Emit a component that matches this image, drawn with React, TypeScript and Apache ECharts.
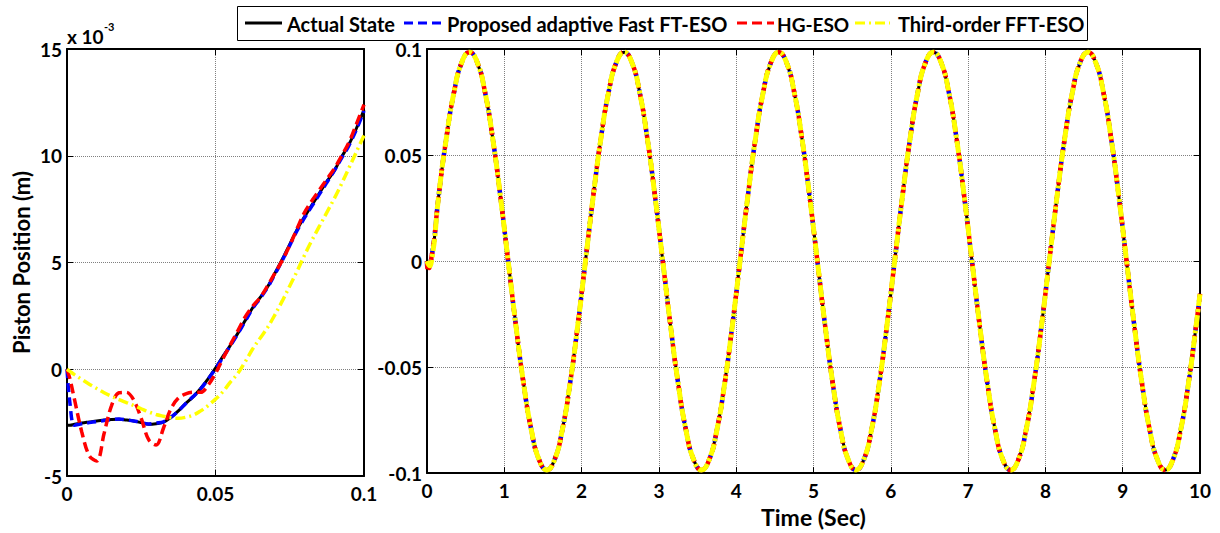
import React, { useEffect, useRef } from "react";
import * as echarts from "echarts";

// ---- Left panel: first 0.1 s (values in units of 10^-3 m) ----
const leftTime = [
  0, 0.001, 0.0025, 0.005, 0.0075, 0.01, 0.0125, 0.015, 0.0175, 0.02, 0.0225, 0.025, 0.0275, 0.03,
  0.0325, 0.035, 0.0375, 0.04, 0.0425, 0.045, 0.0475, 0.05, 0.0525, 0.055, 0.0575, 0.06, 0.0625,
  0.065, 0.0675, 0.07, 0.0725, 0.075, 0.0775, 0.08, 0.0825, 0.085, 0.0875, 0.09, 0.0925, 0.095,
  0.0975, 0.1,
];
const leftActual = [
  -2.62, -2.62, -2.58, -2.52, -2.47, -2.42, -2.38, -2.35, -2.34, -2.38, -2.43, -2.5, -2.58, -2.55,
  -2.48, -2.25, -1.95, -1.6, -1.28, -0.9, -0.45, 0.05, 0.6, 1.12, 1.68, 2.28, 2.88, 3.35, 3.85, 4.5,
  5.15, 5.85, 6.55, 7.15, 7.7, 8.25, 8.8, 9.3, 9.95, 10.55, 11.3, 12.15,
];
const leftFastFT = [
  0, -1.6, -2.62, -2.55, -2.5, -2.45, -2.4, -2.36, -2.33, -2.37, -2.42, -2.5, -2.56, -2.52, -2.46,
  -2.25, -1.95, -1.6, -1.28, -0.92, -0.47, 0.02, 0.56, 1.1, 1.66, 2.25, 2.85, 3.32, 3.82, 4.45, 5.1,
  5.8, 6.5, 7.1, 7.65, 8.2, 8.75, 9.3, 9.9, 10.5, 11.25, 12.1,
];
const leftHG = [
  0, -0.45, -1.4, -2.95, -4.05, -4.3, -3.0, -1.7, -1.1, -1.08, -1.45, -2.3, -3.3, -3.55, -2.75,
  -1.85, -1.35, -1.15, -1.08, -1.08, -0.75, -0.2, 0.5, 1.15, 1.8, 2.45, 2.95, 3.35, 3.9, 4.5, 5.1,
  5.8, 6.6, 7.35, 7.9, 8.4, 8.9, 9.4, 10.0, 10.65, 11.5, 12.4,
];
const leftFFT = [
  0, -0.1, -0.25, -0.48, -0.7, -0.9, -1.1, -1.27, -1.42, -1.56, -1.7, -1.85, -2.0, -2.12, -2.2,
  -2.27, -2.3, -2.25, -2.15, -1.95, -1.7, -1.4, -1.05, -0.6, -0.2, 0.35, 0.95, 1.45, 1.95, 2.55,
  3.2, 3.9, 4.6, 5.35, 6.05, 6.7, 7.35, 8.0, 8.7, 9.45, 10.2, 10.95,
];

// ---- Right panel: samples every 0.1 s from t = 0.15 s to 9.95 s, then t = 10 s (m) ----
const rightStartTime = 0.15;
const rightStep = 0.1;
const rightWave = [
  0.0304, 0.0579, 0.0797, 0.0937, 0.0985, 0.0937, 0.0797, 0.0579, 0.0304, 0.0,
  -0.0304, -0.0579, -0.0797, -0.0937, -0.0985, -0.0937, -0.0797, -0.0579, -0.0304, 0.0,
  0.0304, 0.0579, 0.0797, 0.0937, 0.0985, 0.0937, 0.0797, 0.0579, 0.0304, 0.0,
  -0.0304, -0.0579, -0.0797, -0.0937, -0.0985, -0.0937, -0.0797, -0.0579, -0.0304, 0.0,
  0.0304, 0.0579, 0.0797, 0.0937, 0.0985, 0.0937, 0.0797, 0.0579, 0.0304, 0.0,
  -0.0304, -0.0579, -0.0797, -0.0937, -0.0985, -0.0937, -0.0797, -0.0579, -0.0304, 0.0,
  0.0304, 0.0579, 0.0797, 0.0937, 0.0985, 0.0937, 0.0797, 0.0579, 0.0304, 0.0,
  -0.0304, -0.0579, -0.0797, -0.0937, -0.0985, -0.0937, -0.0797, -0.0579, -0.0304, 0.0,
  0.0304, 0.0579, 0.0797, 0.0937, 0.0985, 0.0937, 0.0797, 0.0579, 0.0304, 0.0,
  -0.0304, -0.0579, -0.0797, -0.0937, -0.0985, -0.0937, -0.0797, -0.0579, -0.0304,
];
const rightEndTime = 10;
const rightEndValue = -0.0154;

const seriesNames = [
  "Actual State",
  "Proposed adaptive Fast FT-ESO",
  "HG-ESO",
  "Third-order FFT-ESO",
];
const seriesColors = ["#000000", "#0000ff", "#ff0000", "#ffff00"];
const leftSets = [leftActual, leftFastFT, leftHG, leftFFT];

const FONT = "Lato, 'Open Sans', sans-serif";

function fmt(v: number) {
  const r = parseFloat(v.toFixed(3));
  return String(r);
}

export default function App() {
  const ref = useRef<HTMLDivElement>(null);
  useEffect(() => {
    if (!ref.current) return;
    const chart = echarts.init(ref.current, undefined, { renderer: "svg" });

    const leftDashes: any[] = ["solid", [9, 5], [10, 5], [10, 4, 2, 4]];
    const rightDashes: any[] = ["solid", [6, 4], [8, 6], [12, 3, 3, 3]];
    const leftWidths = [3, 3.5, 3.5, 3.5];
    const rightWidths = [3, 4.5, 4.5, 5];

    const labelStyle = {
      color: "#000",
      fontFamily: FONT,
      fontWeight: "bold" as const,
      fontSize: 19,
    };
    const axisLine = { show: true, onZero: false, lineStyle: { color: "#000", width: 2 } };
    const tick = { show: true, inside: true, length: 6, lineStyle: { color: "#000", width: 1 } };
    const split = { show: true, lineStyle: { color: "#808080", type: "dotted" as const, width: 1 } };

    const mkX = (grid: number, min: number, max: number, interval: number, main: boolean, extra: any = {}) => ({
      type: "value",
      gridIndex: grid,
      position: main ? "bottom" : "top",
      min,
      max,
      interval,
      axisLine,
      axisTick: tick,
      splitLine: main ? split : { show: false },
      axisLabel: main ? { ...labelStyle, margin: 8, formatter: fmt } : { show: false },
      ...extra,
    });
    const mkY = (grid: number, min: number, max: number, interval: number, main: boolean, extra: any = {}) => ({
      type: "value",
      gridIndex: grid,
      position: main ? "left" : "right",
      min,
      max,
      interval,
      axisLine,
      axisTick: tick,
      splitLine: main ? split : { show: false },
      axisLabel: main ? { ...labelStyle, margin: 5, formatter: fmt } : { show: false },
      ...extra,
    });

    const series: any[] = [];
    leftSets.forEach((arr, k) => {
      series.push({
        name: seriesNames[k],
        type: "line",
        xAxisIndex: 0,
        yAxisIndex: 0,
        symbol: "none",
        smooth: 0.35,
        data: leftTime.map((t, i) => [t, arr[i]]),
        lineStyle: { color: seriesColors[k], width: leftWidths[k], type: leftDashes[k] },
        itemStyle: { color: seriesColors[k] },
        z: 2 + k,
      });
    });
    leftSets.forEach((arr, k) => {
      const head = leftTime.map((t, i) => [t, arr[i] / 1000]);
      const tail = rightWave.map((v, i) => [rightStartTime + i * rightStep, v]);
      series.push({
        name: seriesNames[k],
        type: "line",
        xAxisIndex: 2,
        yAxisIndex: 2,
        symbol: "none",
        smooth: 0.5,
        data: head.concat(tail, [[rightEndTime, rightEndValue]]),
        lineStyle: { color: seriesColors[k], width: rightWidths[k], type: rightDashes[k] },
        itemStyle: { color: seriesColors[k] },
        z: 2 + k,
      });
    });

    // legend drawn as graphic elements (box, line samples, texts)
    const legLineX = [245, 404, 737, 855];
    const legLineLen = [37, 37, 37, 35];
    const legTextX = [287, 447, 777, 898];
    const legY = 23;
    const legend: any[] = [
      {
        type: "rect",
        shape: { x: 237.5, y: 6.5, width: 850, height: 34 },
        style: { fill: "#fff", stroke: "#000", lineWidth: 1 },
        z: 100,
      },
    ];
    seriesNames.forEach((n, k) => {
      legend.push({
        type: "line",
        shape: { x1: legLineX[k], y1: legY, x2: legLineX[k] + legLineLen[k], y2: legY },
        style: {
          stroke: seriesColors[k],
          lineWidth: 3,
          lineDash: k === 0 ? null : leftDashes[k],
        },
        z: 101,
      });
      legend.push({
        type: "text",
        x: legTextX[k],
        y: legY + 1,
        style: {
          text: n,
          font: `bold ${k === 2 ? 19 : 20}px ${FONT}`,
          fill: "#000",
          verticalAlign: "middle",
          align: "left",
        },
        z: 101,
      });
    });

    chart.setOption({
      animation: false,
      backgroundColor: "#fff",
      grid: [
        { left: 67, top: 49, width: 297, height: 427 },
        { left: 427, top: 49, width: 773, height: 427 },
      ],
      xAxis: [
        mkX(0, 0, 0.1, 0.05, true),
        mkX(0, 0, 0.1, 0.05, false),
        mkX(1, 0, 10, 1, true, {
          name: "Time (Sec)",
          nameLocation: "middle",
          nameGap: 26,
          nameTextStyle: { ...labelStyle, fontSize: 23 },
        }),
        mkX(1, 0, 10, 1, false),
      ],
      yAxis: [
        mkY(0, -5, 15, 5, true, {
          name: "Piston Position (m)",
          nameLocation: "middle",
          nameGap: 35,
          nameTextStyle: { ...labelStyle, fontSize: 22 },
        }),
        mkY(0, -5, 15, 5, false),
        mkY(1, -0.1, 0.1, 0.05, true),
        mkY(1, -0.1, 0.1, 0.05, false),
      ],
      graphic: [
        {
          type: "text",
          left: 67,
          top: 27,
          style: { text: "x 10", font: `bold 19px ${FONT}`, fill: "#000" },
        },
        {
          type: "text",
          left: 104,
          top: 21,
          style: { text: "-3", font: `bold 11px ${FONT}`, fill: "#000" },
        },
        ...legend,
      ],
      series,
    });
    return () => chart.dispose();
  }, []);
  return (
    <div
      ref={ref}
      style={{ position: "fixed", left: 0, top: 0, width: 1220, height: 533, background: "#fff" }}
    />
  );
}
